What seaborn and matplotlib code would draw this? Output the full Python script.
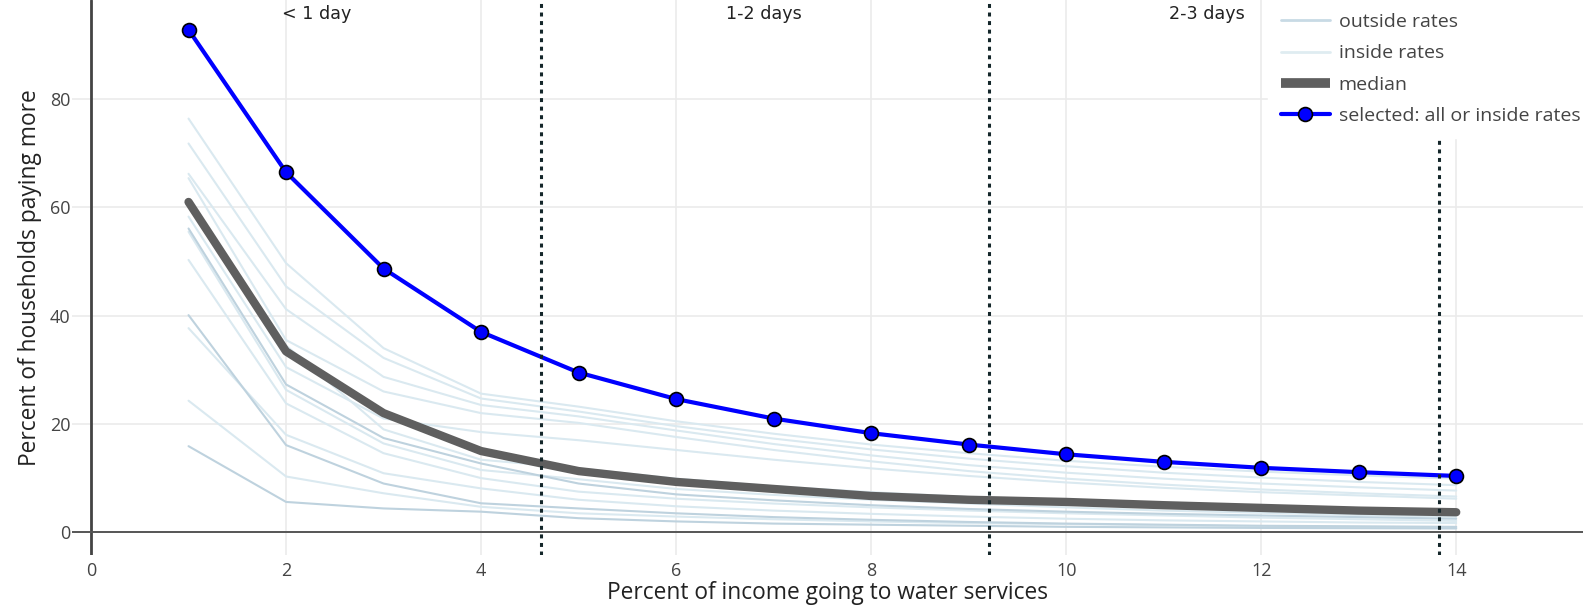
import matplotlib
matplotlib.use("Agg")
import matplotlib.pyplot as plt
from matplotlib.lines import Line2D
import seaborn as sns
import pandas as pd
import numpy as np

# ---------------- data ----------------
income_pct = [1, 2, 3, 4, 5, 6, 7, 8, 9, 10, 11, 12, 13, 14]

selected = [92.8, 66.5, 48.7, 37.0, 29.5, 24.6, 21.0, 18.3, 16.2, 14.4, 13.0, 11.9, 11.1, 10.4]
median = [61.0, 33.4, 22.0, 15.0, 11.3, 9.3, 8.0, 6.7, 6.0, 5.6, 5.0, 4.5, 4.0, 3.7]

inside_1 = [76.4, 49.7, 34.0, 25.6, 23.2, 20.5, 18.2, 16.2, 14.6, 13.2, 12.1, 11.2, 10.5, 9.9]
inside_2 = [71.8, 45.4, 32.2, 24.7, 22.3, 19.6, 17.3, 15.3, 13.6, 12.2, 11.0, 10.1, 9.3, 8.7]
inside_3 = [66.2, 41.2, 28.7, 23.5, 21.4, 18.8, 16.3, 14.2, 12.4, 11.0, 9.9, 9.0, 8.3, 7.7]
inside_4 = [65.4, 35.5, 26.0, 22.0, 20.2, 17.6, 15.2, 13.1, 11.3, 9.9, 8.8, 7.9, 7.2, 6.6]
inside_5 = [58.3, 30.5, 21.0, 18.5, 17.0, 15.2, 13.4, 11.8, 10.4, 9.2, 8.2, 7.4, 6.8, 6.2]
inside_6 = [61.5, 34.5, 19.0, 13.4, 11.8, 9.9, 8.5, 7.4, 6.5, 5.8, 5.2, 4.7, 4.3, 4.0]
inside_7 = [55.5, 26.3, 16.4, 11.5, 9.8, 8.0, 6.9, 6.0, 5.3, 4.6, 4.0, 3.6, 3.2, 2.9]
inside_8 = [50.3, 23.8, 14.6, 10.0, 7.5, 6.2, 5.3, 4.6, 4.0, 3.5, 3.1, 2.7, 2.4, 2.1]
inside_9 = [37.7, 18.0, 10.9, 8.1, 6.0, 4.8, 4.0, 3.4, 2.9, 2.5, 2.2, 2.0, 1.8, 1.7]
inside_10 = [24.3, 10.3, 7.2, 4.7, 3.5, 2.9, 2.4, 2.0, 1.7, 1.5, 1.3, 1.1, 1.0, 0.9]

outside_1 = [56.1, 27.3, 17.4, 12.7, 9.0, 7.0, 5.9, 5.0, 4.3, 3.8, 3.4, 3.1, 2.8, 2.5]
outside_2 = [40.1, 16.1, 9.0, 5.35, 4.4, 3.5, 2.8, 2.3, 1.9, 1.6, 1.4, 1.2, 1.1, 1.0]
outside_3 = [15.9, 5.6, 4.4, 3.8, 2.6, 2.0, 1.6, 1.4, 1.2, 1.0, 0.9, 0.8, 0.75, 0.7]

inside_lines = [inside_1, inside_2, inside_3, inside_4, inside_5, inside_6,
                inside_7, inside_8, inside_9, inside_10]
outside_lines = [outside_1, outside_2, outside_3]

day_marks = [4.615, 9.21, 13.82]
day_labels = ["< 1 day", "1-2 days", "2-3 days"]
day_label_x = [2.31, 6.9, 11.44]

x_ticks = [0, 2, 4, 6, 8, 10, 12, 14]
y_ticks = [0, 20, 40, 60, 80]

legend_labels = ["outside rates", "inside rates", "median", "selected: all or inside rates"]

# ---------------- build tables ----------------
rows = []
for i, ln in enumerate(inside_lines):
    for xv, yv in zip(income_pct, ln):
        rows.append({"x": xv, "y": yv, "line": f"in{i}", "kind": "inside"})
for i, ln in enumerate(outside_lines):
    for xv, yv in zip(income_pct, ln):
        rows.append({"x": xv, "y": yv, "line": f"out{i}", "kind": "outside"})
thin_df = pd.DataFrame(rows)
med_df = pd.DataFrame({"x": income_pct, "y": median})
sel_df = pd.DataFrame({"x": income_pct, "y": selected})

# ---------------- style ----------------
sns.set_theme(style="white")
plt.rcParams["font.family"] = ["Open Sans", "DejaVu Sans"]

W, H = 1583, 612
fig = plt.figure(figsize=(W / 100, H / 100), dpi=100)
ax = fig.add_axes([72 / W, 1 - 555 / H, (W - 72) / W, 555 / H])

c_in = "#dae9f0"
c_out = "#bed2de"

sns.lineplot(data=thin_df[thin_df.kind == "inside"], x="x", y="y", units="line",
             estimator=None, color=c_in, lw=1.5, ax=ax, legend=False, zorder=2)
sns.lineplot(data=thin_df[thin_df.kind == "outside"], x="x", y="y", units="line",
             estimator=None, color=c_out, lw=1.5, ax=ax, legend=False, zorder=2.5)
sns.lineplot(data=med_df, x="x", y="y", color="#5f5f5f", lw=6.0, ax=ax,
             legend=False, zorder=3, solid_capstyle="round", solid_joinstyle="round")
sns.lineplot(data=sel_df, x="x", y="y", color="#0000ff", lw=3.0, marker="o",
             markersize=10, markerfacecolor="#0000ff", markeredgecolor="black",
             markeredgewidth=1.2, ax=ax, legend=False, zorder=4)

for xv in day_marks:
    ax.axvline(xv, color="#14262a", lw=2.2, ls=(0, (1.3, 1.5)), zorder=5)
for xv, lab in zip(day_label_x, day_labels):
    ax.text(xv, 95.7, lab, ha="center", va="center", fontsize=12.6,
            color="#222222", family=["DejaVu Sans"], zorder=6)

ax.set_xlim(-0.195, 15.30)
ax.set_ylim(-4.2, 98.3)
ax.set_xticks(x_ticks)
ax.set_yticks(y_ticks)
ax.grid(True, color="#ebebeb", lw=1.2, zorder=0)
ax.set_axisbelow(True)
for s in ax.spines.values():
    s.set_visible(False)
ax.axvline(0, color="#444444", lw=2.0, zorder=1)
ax.axhline(0, color="#555555", lw=1.4, zorder=1)
ax.tick_params(axis="both", length=0, labelsize=13, labelcolor="#444444")
ax.tick_params(axis="x", pad=5)
ax.tick_params(axis="y", pad=1)

ax.set_xlabel("Percent of income going to water services", fontsize=16.4, color="#222222")
ax.set_ylabel("Percent of households paying more", fontsize=16.4, color="#222222")
ax.xaxis.set_label_coords(0.5, -0.046)
ax.yaxis.set_label_coords(-0.020, 0.5)

handles = [
    Line2D([], [], color="#c8dae5", lw=2.0),
    Line2D([], [], color="#dfecf1", lw=2.0),
    Line2D([], [], color="#5f5f5f", lw=7.0, solid_capstyle="butt"),
    Line2D([], [], color="#0000ff", lw=3.0, marker="o", markersize=10,
           markerfacecolor="#0000ff", markeredgecolor="black", markeredgewidth=1.2),
]
leg = fig.legend(handles, legend_labels, loc="upper left",
                 bbox_to_anchor=(1268 / W, 1.0), bbox_transform=fig.transFigure,
                 frameon=True, fontsize=14, handlelength=2.5, handletextpad=0.46,
                 labelspacing=0.69, borderpad=0.67, borderaxespad=0.0)
leg.get_frame().set_facecolor("white")
leg.get_frame().set_edgecolor("white")
leg.get_frame().set_alpha(1.0)
leg.get_frame().set_boxstyle("square", pad=0)
leg.set_zorder(10)
for t in leg.get_texts():
    t.set_color("#444444")

fig.savefig("out.png", dpi=100)
